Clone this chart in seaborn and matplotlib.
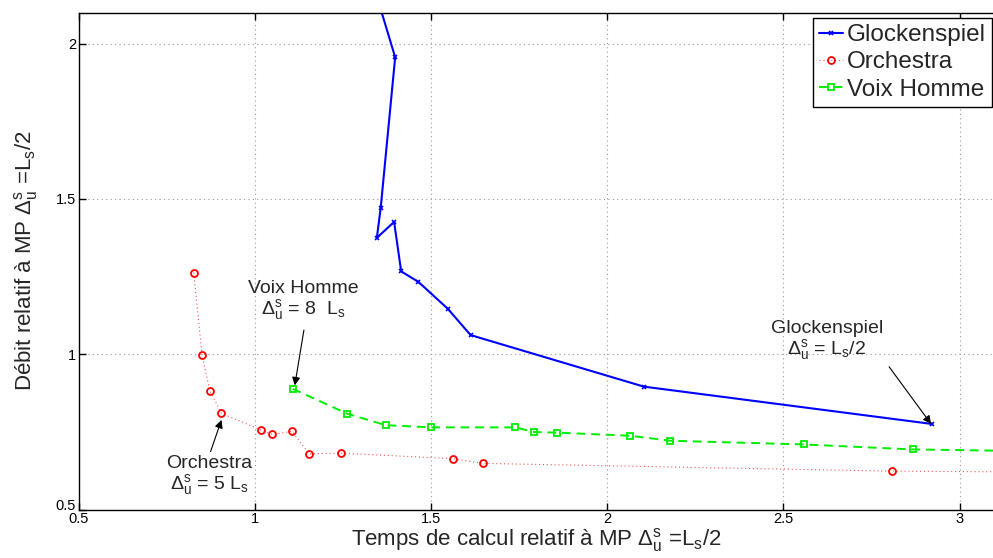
import numpy as np
import pandas as pd
import matplotlib
matplotlib.use("Agg")
import matplotlib.pyplot as plt
import seaborn as sns

# values
glock_x = [1.28, 1.398, 1.357, 1.346, 1.395, 1.415, 1.464, 1.547, 1.612, 2.104, 2.921]
glock_y = [2.40, 1.956, 1.472, 1.375, 1.426, 1.267, 1.233, 1.147, 1.062, 0.896, 0.776]

orch_x = [0.826, 0.850, 0.872, 0.905, 1.016, 1.049, 1.105, 1.154, 1.244, 1.562, 1.648, 2.809, 3.40]
orch_y = [1.263, 0.997, 0.883, 0.810, 0.757, 0.742, 0.752, 0.680, 0.682, 0.664, 0.649, 0.624, 0.620]

voix_x = [1.107, 1.262, 1.371, 1.500, 1.739, 1.792, 1.856, 2.065, 2.178, 2.558, 2.867, 3.40]
voix_y = [0.889, 0.809, 0.772, 0.765, 0.765, 0.750, 0.748, 0.738, 0.722, 0.710, 0.694, 0.685]

x_ticks = [0.5, 1, 1.5, 2, 2.5, 3]
y_ticks = [0.5, 1, 1.5, 2]

sns.set_theme(style="white")
plt.rcParams["font.family"] = ["Liberation Sans", "DejaVu Sans"]
plt.rcParams["mathtext.fontset"] = "custom"
plt.rcParams["mathtext.rm"] = "Liberation Sans"
plt.rcParams["mathtext.it"] = "Liberation Sans"
plt.rcParams["mathtext.bf"] = "Liberation Sans:bold"

fig = plt.figure(figsize=(9.93, 5.58), dpi=100)
ax = fig.add_axes([78.8 / 993, 48.3 / 558, 916 / 993, 497.2 / 558])

glock = pd.DataFrame({"x": glock_x, "y": glock_y})
orch = pd.DataFrame({"x": orch_x, "y": orch_y})
voix = pd.DataFrame({"x": voix_x, "y": voix_y})

sns.lineplot(data=glock, x="x", y="y", sort=False, estimator=None, ax=ax,
             color="#0000ff", lw=1.5, marker="x", ms=3.5, mew=1.2, mec="#0000ff",
             label="Glockenspiel")
sns.lineplot(data=orch, x="x", y="y", sort=False, estimator=None, ax=ax,
             color="#ff5555", lw=0.8, linestyle=(0, (1, 2.5)), marker="o", ms=5,
             mew=1.3, mfc="none", mec="#ff0000", label="Orchestra")
sns.lineplot(data=voix, x="x", y="y", sort=False, estimator=None, ax=ax,
             color="#00ee00", lw=1.4, dashes=(4.5, 3), marker="s", ms=5,
             mew=1.3, mfc="none", mec="#00ee00", label="Voix Homme")

ax.set_xlim(0.5, 3.1)
ax.set_ylim(0.5, 2.1)
ax.set_xticks(x_ticks)
ax.set_yticks(y_ticks)
ax.set_xticklabels(["0.5", "1", "1.5", "2", "2.5", "3"])
ax.set_yticklabels(["0.5", "1", "1.5", "2"])
ax.tick_params(direction="in", length=5, width=1, colors="black", labelsize=10.5,
               top=True, bottom=True, left=True, right=False, pad=2)
ax.get_yticklabels()[0].set_va("baseline")
ax.grid(True, color="#999999", linestyle=(0, (1, 3)), lw=0.8)
for s in ["top", "bottom", "left"]:
    ax.spines[s].set_color("black")
    ax.spines[s].set_linewidth(1)
ax.spines["right"].set_visible(False)

ax.set_xlabel(r"Temps de calcul relatif à MP $\Delta_u^s$ =L$_s$/2", fontsize=16, labelpad=0)
ax.set_ylabel(r"Débit relatif à MP $\Delta_u^s$ =L$_s$/2", fontsize=16, labelpad=11)

leg = ax.legend(loc="upper right", bbox_to_anchor=(991.7 / 993, 1 - 18 / 558),
                bbox_transform=fig.transFigure, borderaxespad=0, fontsize=17.5,
                fancybox=False, framealpha=1, edgecolor="black", labelspacing=0.22,
                handlelength=1.0, handletextpad=0.15, borderpad=0.25)
leg.get_frame().set_linewidth(1)

arrow = dict(arrowstyle="-|>", color="black", lw=0.8, mutation_scale=12,
             shrinkA=0, shrinkB=0)
ax.annotate("", xy=(1.113, 0.90), xytext=(1.139, 1.078), arrowprops=arrow)
ax.annotate("", xy=(0.905, 0.789), xytext=(0.874, 0.687), arrowprops=arrow)
ax.annotate("", xy=(2.919, 0.776), xytext=(2.80, 0.960), arrowprops=arrow)

ax.text(1.137, 1.24, "Voix Homme\n" + r"$\Delta_u^s$ = 8  L$_s$", fontsize=14,
        ha="center", va="top", multialignment="center", linespacing=1.0)
ax.text(0.871, 0.676, "Orchestra\n" + r"$\Delta_u^s$ = 5 L$_s$", fontsize=14,
        ha="center", va="top", multialignment="center", linespacing=1.0)
ax.text(2.623, 1.112, "Glockenspiel\n" + r"$\Delta_u^s$ = L$_s$/2", fontsize=14,
        ha="center", va="top", multialignment="center", linespacing=1.0)

fig.savefig("out.png", dpi=100)
